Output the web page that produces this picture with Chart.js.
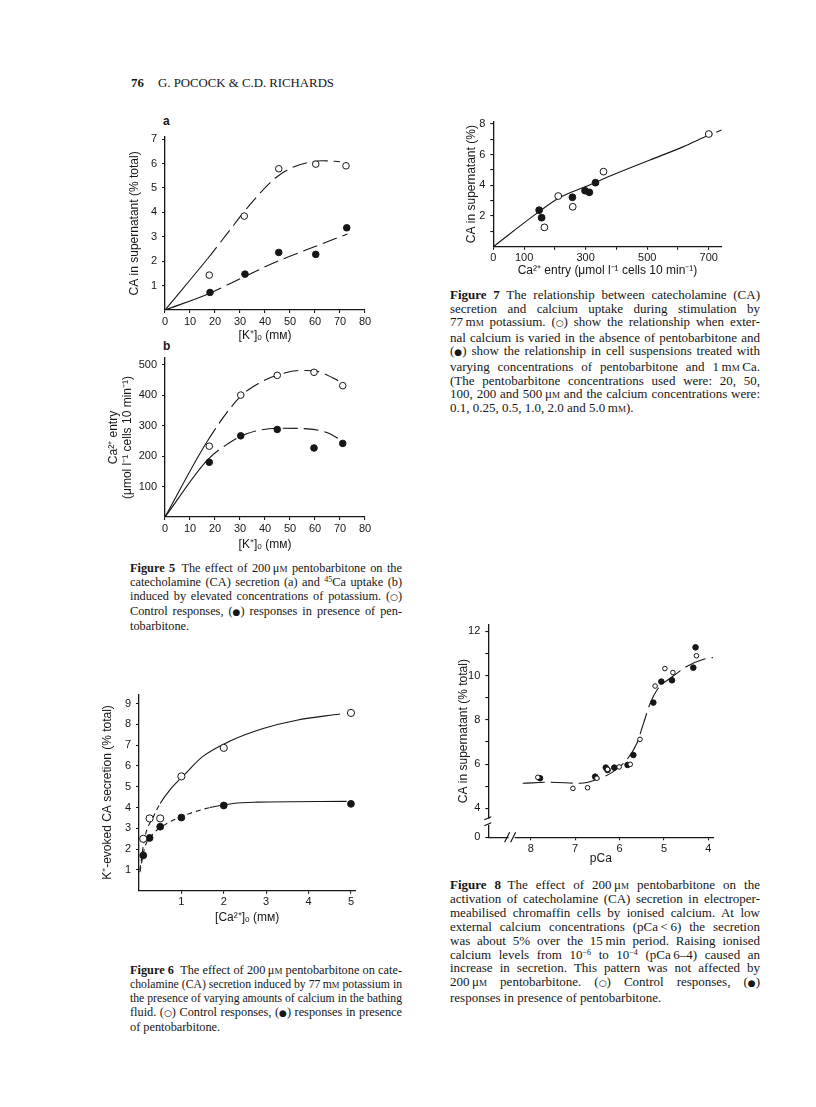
<!DOCTYPE html>
<html>
<head>
<meta charset="utf-8">
<title>Pocock &amp; Richards, p. 76</title>
<script src="https://cdn.jsdelivr.net/npm/chart.js@4.4.1/dist/chart.umd.min.js"></script>
<style>
  html, body { margin:0; padding:0; background:#fff; }
  body { position:relative; width:816px; height:1107px; overflow:hidden; color:#161616;
         font-family:"Liberation Serif","Times New Roman",serif; }
  canvas { position:absolute; }
  .hd { position:absolute; left:131px; top:75px; font-size:12.8px; line-height:16px; white-space:nowrap; }
  .hd b { display:inline-block; width:27px; }
  .cap { position:absolute; }
  .cap.l { width:272px; font-size:12.3px; line-height:14px; }
  .cap.r { width:310px; font-size:13px; }
  .cap div { white-space:nowrap; }
  .cap span.t { display:inline-block; transform-origin:0 50%; }
  .sc { font-variant:small-caps; }
  .sym { font-family:"DejaVu Sans",sans-serif; font-size:9px; }
  sup { font-size:8px; line-height:0; vertical-align:4px; }
  .pl { position:absolute; font:bold 12px "Liberation Sans",Arial,sans-serif; }
</style>
</head>
<body>

<div class="hd"><b>76</b>G. POCOCK &amp; C.D. RICHARDS</div>

<div class="pl" style="left:163px;top:114px">a</div>
<div class="pl" style="left:163px;top:339px">b</div>

<div class="cap l" style="left:130px;top:561px">
  <div class="j"><b>Figure 5</b>&ensp;The effect of 200&thinsp;μ<span class="sc">m</span> pentobarbitone on the</div>
  <div class="j">catecholamine (CA) secretion (a) and <sup>45</sup>Ca uptake (b)</div>
  <div class="j">induced by elevated concentrations of potassium. (<span class="sym">○</span>)</div>
  <div class="j">Control responses, (<span class="sym">●</span>) responses in presence of pen-</div>
  <div>tobarbitone.</div>
</div>

<div class="cap l" style="left:130px;top:963px">
  <div class="j"><b>Figure 6</b>&ensp;The effect of 200&thinsp;μ<span class="sc">m</span> pentobarbitone on cate-</div>
  <div class="j">cholamine (CA) secretion induced by 77&thinsp;m<span class="sc">m</span> potassium in</div>
  <div class="j">the presence of varying amounts of calcium in the bathing</div>
  <div class="j">fluid. (<span class="sym">○</span>) Control responses, (<span class="sym">●</span>) responses in presence</div>
  <div>of pentobarbitone.</div>
</div>

<div class="cap r" style="left:450px;top:288px;line-height:13.6px">
  <div class="j"><b>Figure 7</b>&ensp;The relationship between catecholamine (CA)</div>
  <div class="j">secretion and calcium uptake during stimulation by</div>
  <div class="j">77&thinsp;m<span class="sc">m</span> potassium. (<span class="sym">○</span>) show the relationship when exter-</div>
  <div class="j">nal calcium is varied in the absence of pentobarbitone and</div>
  <div class="j">(<span class="sym">●</span>) show the relationship in cell suspensions treated with</div>
  <div class="j">varying concentrations of pentobarbitone and 1&thinsp;m<span class="sc">m</span>&thinsp;Ca.</div>
  <div class="j">(The pentobarbitone concentrations used were: 20, 50,</div>
  <div class="j">100, 200 and 500&thinsp;μ<span class="sc">m</span> and the calcium concentrations were:</div>
  <div>0.1, 0.25, 0.5, 1.0, 2.0 and 5.0&thinsp;m<span class="sc">m</span>).</div>
</div>

<div class="cap r" style="left:450px;top:878px;line-height:13.9px">
  <div class="j"><b>Figure 8</b>&ensp;The effect of 200&thinsp;μ<span class="sc">m</span> pentobarbitone on the</div>
  <div class="j">activation of catecholamine (CA) secretion in electroper-</div>
  <div class="j">meabilised chromaffin cells by ionised calcium. At low</div>
  <div class="j">external calcium concentrations (pCa&thinsp;&lt;&thinsp;6) the secretion</div>
  <div class="j">was about 5% over the 15&thinsp;min period. Raising ionised</div>
  <div class="j">calcium levels from 10<sup>−6</sup> to 10<sup>−4</sup> (pCa&thinsp;6–4) caused an</div>
  <div class="j">increase in secretion. This pattern was not affected by</div>
  <div class="j">200&thinsp;μ<span class="sc">m</span> pentobarbitone. (<span class="sym">○</span>) Control responses, (<span class="sym">●</span>)</div>
  <div>responses in presence of pentobarbitone.</div>
</div>

<script>
const INK = '#161616';
const SANS = '"Liberation Sans", Arial, sans-serif';

// Figure 5a - CA secretion against [K+]o
const f5aOpenK = [17.7, 31.7, 45.5, 60.3, 72.4];
const f5aOpenCA = [1.43, 3.85, 5.79, 5.98, 5.91];
const f5aPentK = [18, 32, 45.5, 60.3, 72.7];
const f5aPentCA = [0.72, 1.47, 2.36, 2.28, 3.37];
const f5aOpenFitK = [0, 17, 25, 33, 44, 50, 57, 63, 70];
const f5aOpenFit = [0, 2.1, 3.15, 4.2, 5.4, 5.8, 6.04, 6.12, 6.08];
const f5aPentFitK = [0, 17, 32, 45, 60, 73];
const f5aPentFit = [0, 0.65, 1.38, 2.0, 2.6, 3.12];
const f5aCATicks = [1, 2, 3, 4, 5, 6, 7];

// Figure 5b - Ca2+ entry against [K+]o
const f5bOpenK = [17.7, 30.3, 44.9, 59.6, 71.1];
const f5bOpenCa = [233, 401, 466, 476, 432];
const f5bPentK = [17.7, 30.3, 44.9, 59.6, 71.1];
const f5bPentCa = [180, 267, 288, 227, 242];
const f5bOpenFitK = [0, 17, 30, 38, 45, 54, 61, 67, 72];
const f5bOpenFit = [0, 250, 395, 442, 467, 482, 479, 458, 436];
const f5bPentFitK = [0, 17, 25, 33, 46, 57, 65, 71];
const f5bPentFit = [0, 188, 240, 275, 292, 290, 277, 250];
const f5bCaTicks = [100, 200, 300, 400, 500];

const kTicks = [0, 10, 20, 30, 40, 50, 60, 70, 80];

// Figure 6 - K+-evoked secretion against [Ca2+]o
const f6Ca = [0.1, 0.25, 0.5, 1, 2, 5];
const f6Open = [2.5, 3.48, 3.48, 5.5, 6.87, 8.55];
const f6Pent = [1.7, 2.54, 3.08, 3.52, 4.1, 4.18];
const f6OpenFitCa = [0.02, 0.14, 0.34, 0.5, 0.73, 1.08, 1.5, 2.15, 2.93, 3.72, 4.74];
const f6OpenFit = [1.0, 2.6, 3.56, 4.2, 4.85, 5.6, 6.45, 7.2, 7.8, 8.2, 8.5];
const f6PentFitCa = [0.02, 0.14, 0.34, 0.69, 1.2, 1.67, 2.22, 2.78, 4.9];
const f6PentFit = [0.9, 2.1, 2.75, 3.27, 3.72, 4.0, 4.2, 4.26, 4.3];
const f6CaTicks = [1, 2, 3, 4, 5];
const f6SecTicks = [1, 2, 3, 4, 5, 6, 7, 8, 9];

// Figure 7 - CA secretion against Ca2+ entry
const f7OpenEntry = [166, 211, 258, 358, 700];
const f7OpenCA = [1.26, 3.3, 2.6, 4.89, 7.34];
const f7PentEntry = [149, 157, 257, 298, 312, 332];
const f7PentCA = [2.38, 1.89, 3.22, 3.65, 3.54, 4.17];
const f7FitEntry = [0, 141, 217, 300, 401, 509, 618, 688, 742];
const f7Fit = [0, 2.17, 3.22, 3.92, 4.78, 5.65, 6.52, 7.17, 7.6];
const f7EntryTicks = [0, 100, 200, 300, 400, 500, 600, 700];
const f7EntryLabels = [0, 100, 300, 500, 700];
const f7CATicks = [1, 2, 3, 4, 5, 6, 7, 8];
const f7CALabels = [2, 4, 6, 8];

// Figure 8 - CA secretion against pCa
const f8OpenPCa = [7.84, 7.05, 6.72, 6.51, 6.27, 6.01, 5.76, 5.54, 5.2, 4.98, 4.8, 4.27];
const f8OpenCA = [5.4, 4.9, 4.93, 5.36, 5.76, 5.87, 5.99, 7.12, 9.53, 10.32, 10.14, 10.9];
const f8PentPCa = [7.79, 6.55, 6.31, 6.27, 6.12, 5.82, 5.69, 5.24, 5.06, 4.82, 4.34, 4.29];
const f8PentCA = [5.36, 5.43, 5.84, 5.73, 5.84, 5.96, 6.41, 8.78, 9.73, 9.79, 10.36, 11.28];
const f8FitPCa = [8.18, 7.57, 6.89, 6.44, 6.14, 5.84, 5.61, 5.46, 5.31, 5.13, 4.86, 4.49, 4.11, 3.89];
const f8Fit = [5.13, 5.18, 5.13, 5.36, 5.66, 6.19, 6.94, 7.85, 8.75, 9.43, 9.88, 10.41, 10.74, 10.82];
const f8PCaTicks = [8, 7, 6, 5, 4];
const f8CAZero = 2.688;   // bottom of the broken axis, labelled 0
const f8CATicks = [f8CAZero, 4, 5, 6, 7, 8, 9, 10, 11, 12];

function pts(xs, ys) { return xs.map((x, i) => ({ x: x, y: ys[i] })); }

function openPts(xs, ys, r) {
  return { data: pts(xs, ys), pointRadius: r, pointHoverRadius: r, pointBackgroundColor: '#fff',
           pointBorderColor: INK, pointBorderWidth: 1 };
}
function fullPts(xs, ys, r) {
  return { data: pts(xs, ys), pointRadius: r, pointHoverRadius: r, pointBackgroundColor: INK,
           pointBorderColor: INK, pointBorderWidth: 1 };
}
// dashFor(i) gives the dash of the segment that starts at point i
function curve(xs, ys, dashFor) {
  return { data: pts(xs, ys), showLine: true, pointRadius: 0, borderColor: INK, borderWidth: 1.1,
           cubicInterpolationMode: 'monotone', segment: { borderDash: c => dashFor(c.p0DataIndex) } };
}

const axisBreak = {
  id: 'axisBreak',
  afterDraw(chart, args, opt) {
    if (opt.x === undefined) return;
    const { ctx, chartArea: ca, scales } = chart;
    const yb = scales.y.getPixelForValue(opt.y);
    const xb = scales.x.getPixelForValue(opt.x);
    ctx.save();
    ctx.fillStyle = '#fff';
    ctx.fillRect(ca.left - 3, yb - 3, 6, 6);
    ctx.fillRect(xb - 3, ca.bottom - 3, 6, 6);
    ctx.strokeStyle = INK;
    ctx.lineWidth = 1.2;
    ctx.beginPath();
    ctx.moveTo(ca.left - 4, yb - 2); ctx.lineTo(ca.left + 3, yb - 5);
    ctx.moveTo(ca.left - 4, yb + 4); ctx.lineTo(ca.left + 3, yb + 1);
    ctx.moveTo(xb - 7, ca.bottom + 5); ctx.lineTo(xb - 2, ca.bottom - 5);
    ctx.moveTo(xb - 1, ca.bottom + 5); ctx.lineTo(xb + 4, ca.bottom - 5);
    ctx.stroke();
    ctx.restore();
  }
};

function axis(a, size, horizontal, fs) {
  return {
    type: 'linear', min: a.min, max: a.max, reverse: !!a.reverse,
    afterBuildTicks: s => { s.ticks = a.ticks.map(v => ({ value: v })); },
    afterFit: s => { if (horizontal) s.height = size; else s.width = size; },
    grid: { drawOnChartArea: false, drawTicks: true, tickLength: 3, color: INK, lineWidth: 1.1 },
    border: { display: true, color: INK, width: 1.3 },
    ticks: { autoSkip: false, maxRotation: 0, padding: horizontal ? 2 : 5, color: INK,
             font: { family: SANS, size: fs }, callback: a.label || (v => v) },
    title: { display: true, text: a.title, color: INK, font: { family: SANS, size: fs + 1 },
             padding: { top: 4, bottom: 4 } }
  };
}

// o.x0..o.y1 is the plot area on the page; titles are placed by their centres
function plot(o) {
  const fs = o.fs || 11;
  const lh = (fs + 1) * 1.2;
  const left = Math.round(o.yTitleX - 4 - lh / 2);
  const top = Math.round(o.y0 - 12);
  const right = Math.round(o.x1 + 16);
  const bottom = Math.round(o.xTitleY + 4 + lh / 2);
  const cv = document.createElement('canvas');
  cv.width = right - left;
  cv.height = bottom - top;
  cv.style.left = left + 'px';
  cv.style.top = top + 'px';
  document.body.appendChild(cv);
  new Chart(cv, {
    type: 'scatter',
    data: { datasets: o.datasets },
    options: {
      responsive: false, animation: false, events: [],
      layout: { padding: { left: 0, top: o.y0 - top, right: right - o.x1, bottom: 0 } },
      plugins: { legend: { display: false }, tooltip: { enabled: false }, axisBreak: o.breaks || {} },
      scales: {
        x: axis(o.x, bottom - o.y1, true, fs),
        y: axis(o.y, o.x0 - left, false, fs)
      }
    },
    plugins: [axisBreak]
  });
}

const dash5 = [15, 6];

plot({
  x0: 165, x1: 365, y0: 136.8, y1: 310, yTitleX: 134, xTitleY: 336,
  x: { min: 0, max: 80, ticks: kTicks, title: '[K⁺]ₒ (mм)' },
  y: { min: 0, max: 7.1, ticks: f5aCATicks, title: 'CA in supernatant (% total)' },
  datasets: [
    openPts(f5aOpenK, f5aOpenCA, 3.3),
    fullPts(f5aPentK, f5aPentCA, 3.3),
    curve(f5aOpenFitK, f5aOpenFit, i => (i === 0 ? [] : dash5)),
    curve(f5aPentFitK, f5aPentFit, i => (i === 0 ? [] : dash5))
  ]
});

plot({
  x0: 165, x1: 365, y0: 358, y1: 517, yTitleX: 113, xTitleY: 545,
  x: { min: 0, max: 80, ticks: kTicks, title: '[K⁺]ₒ (mм)' },
  y: { min: 0, max: 523, ticks: f5bCaTicks, title: ['Ca²⁺ entry', '(μmol l⁻¹ cells 10 min⁻¹)'] },
  datasets: [
    openPts(f5bOpenK, f5bOpenCa, 3.3),
    fullPts(f5bPentK, f5bPentCa, 3.3),
    curve(f5bOpenFitK, f5bOpenFit, i => (i === 0 ? [] : dash5)),
    curve(f5bPentFitK, f5bPentFit, i => (i === 0 ? [] : dash5))
  ]
});

plot({
  x0: 139, x1: 355.2, y0: 694.2, y1: 890.8, yTitleX: 107, xTitleY: 918,
  x: { min: 0, max: 5.1, ticks: f6CaTicks, title: '[Ca²⁺]ₒ (mм)' },
  y: { min: 0, max: 9.45, ticks: f6SecTicks, title: 'K⁺-evoked CA secretion (% total)' },
  datasets: [
    openPts(f6Ca, f6Open, 3.6),
    fullPts(f6Ca, f6Pent, 3.4),
    curve(f6OpenFitCa, f6OpenFit, i => (i < 3 ? [5, 4] : [])),
    curve(f6PentFitCa, f6PentFit, i => (i < 5 ? [5, 4] : []))
  ]
});

plot({
  x0: 493.3, x1: 721.7, y0: 121.6, y1: 246.7, yTitleX: 471, xTitleY: 271,
  x: { min: 0, max: 742, ticks: f7EntryTicks, title: 'Ca²⁺ entry (μmol l⁻¹ cells 10 min⁻¹)',
       label: v => (f7EntryLabels.includes(v) ? v : '') },
  y: { min: 0, max: 8.15, ticks: f7CATicks, title: 'CA in supernatant (%)',
       label: v => (f7CALabels.includes(v) ? v : '') },
  datasets: [
    openPts(f7OpenEntry, f7OpenCA, 3.4),
    fullPts(f7PentEntry, f7PentCA, 3.4),
    curve(f7FitEntry, f7Fit, i => (i === 7 ? [8, 4] : []))
  ]
});

plot({
  x0: 488.3, x1: 713.3, y0: 625, y1: 837.3, yTitleX: 463, xTitleY: 859,
  x: { min: 3.89, max: 8.955, reverse: true, ticks: f8PCaTicks, title: 'pCa' },
  y: { min: f8CAZero, max: 12.29, ticks: f8CATicks, title: 'CA in supernatant (% total)',
       label: v => (v < 3 ? '0' : (v % 2 ? '' : v)) },
  breaks: { x: 8.43, y: 3.39 },
  datasets: [
    openPts(f8OpenPCa, f8OpenCA, 2.3),
    fullPts(f8PentPCa, f8PentCA, 2.8),
    curve(f8FitPCa, f8Fit, () => [22, 6])
  ]
});

// justify caption lines to the column width: widen the spaces, or squeeze a line that is too long
for (const line of document.querySelectorAll('.cap .j')) {
  const w = line.clientWidth;
  const span = document.createElement('span');
  span.className = 't';
  span.innerHTML = line.innerHTML;
  line.innerHTML = '';
  line.appendChild(span);
  const natural = span.getBoundingClientRect().width;
  const n = (span.textContent.match(/ /g) || []).length;
  if (natural > w) {
    span.style.transform = 'scaleX(' + (w / natural) + ')';
  } else if (n) {
    line.style.wordSpacing = ((w - natural) / n) + 'px';
  }
}
</script>
</body>
</html>
